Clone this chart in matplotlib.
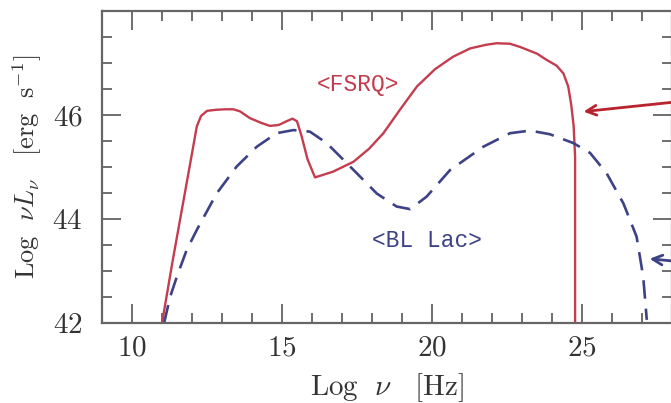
import matplotlib
matplotlib.use("Agg")
import matplotlib.pyplot as plt
from matplotlib.ticker import MultipleLocator

plt.rcParams['mathtext.fontset'] = 'cm'
plt.rcParams['font.family'] = 'cmr10'
plt.rcParams['axes.formatter.use_mathtext'] = True

# average SEDs (log nu, log nuL_nu)
fsrq_x = [11.0, 11.36, 11.6, 11.9, 12.16, 12.3, 12.5, 12.8, 13.1, 13.38, 13.6, 13.93, 14.3,
          14.6, 14.9, 15.15, 15.35, 15.5, 15.65, 15.85, 16.1, 16.7, 17.38, 17.9, 18.38, 18.93,
          19.5, 20.1, 20.7, 21.27, 21.8, 22.16, 22.6, 22.93, 23.5, 23.82, 24.15, 24.38, 24.54,
          24.64, 24.72, 24.77, 24.77]
fsrq_y = [42.0, 43.21, 43.98, 44.94, 45.78, 45.98, 46.08, 46.1, 46.11, 46.11, 46.07, 45.94,
          45.85, 45.79, 45.81, 45.88, 45.93, 45.88, 45.6, 45.15, 44.8, 44.91, 45.1, 45.35,
          45.65, 46.1, 46.55, 46.88, 47.12, 47.28, 47.35, 47.38, 47.37, 47.31, 47.18, 47.06,
          46.95, 46.8, 46.55, 46.2, 45.8, 45.2, 42.0]

bllac_x = [11.07, 11.27, 11.5, 11.82, 12.16, 12.82, 13.49, 14.16, 14.82, 15.38, 15.93, 16.49,
           17.27, 18.16, 18.82, 19.27, 19.82, 20.6, 21.71, 22.6, 23.27, 23.93, 24.71, 25.27,
           25.82, 26.38, 26.82, 27.04, 27.16]
bllac_y = [42.0, 42.5, 42.9, 43.4, 43.79, 44.49, 45.01, 45.39, 45.65, 45.71, 45.68, 45.46,
           45.01, 44.49, 44.24, 44.19, 44.43, 44.94, 45.39, 45.65, 45.70, 45.63, 45.46, 45.27,
           44.88, 44.30, 43.66, 42.89, 42.06]

xticks = [10, 15, 20, 25]
yticks = [42, 44, 46]

red = '#c43d4f'
navy = '#3d4286'

fig = plt.figure(figsize=(6.71, 4.03), dpi=100)
ax = fig.add_axes([102 / 671, 80 / 403, 570 / 671, 312 / 403])

ax.plot(fsrq_x, fsrq_y, color=red, lw=1.7, solid_joinstyle='round')
ax.plot(bllac_x, bllac_y, color=navy, lw=1.9, dashes=(7, 3.8))

ax.text(17.52, 46.59, '<FSRQ>', color=red, family='Liberation Mono',
        fontsize=16.5, ha='center', va='center')
ax.text(19.85, 43.58, '<BL Lac>', color=navy, family='Liberation Mono',
        fontsize=16.5, ha='center', va='center')

ax.annotate('', xy=(24.96, 46.06), xytext=(28.6, 46.28), annotation_clip=False,
            arrowprops=dict(arrowstyle='->,head_length=0.7,head_width=0.35',
                            color='#b8242e', lw=2))
ax.annotate('', xy=(27.16, 43.24), xytext=(28.6, 43.16), annotation_clip=False,
            arrowprops=dict(arrowstyle='->,head_length=0.7,head_width=0.35',
                            color=navy, lw=2))

ax.set_xlim(9, 28)
ax.set_ylim(42, 48)
ax.set_xticks(xticks)
ax.set_yticks(yticks)
ax.xaxis.set_minor_locator(MultipleLocator(1))
ax.yaxis.set_minor_locator(MultipleLocator(0.5))
ax.tick_params(which='both', direction='in', top=True, right=True,
               colors='#555555', labelcolor='#333333', width=1.2)
ax.tick_params(which='major', length=14, labelsize=21)
ax.tick_params(axis='x', which='major', pad=9)
ax.tick_params(axis='y', which='major', pad=14)
ax.tick_params(which='minor', length=7)
for s in ax.spines.values():
    s.set_color('#666666')
    s.set_linewidth(1.6)

ax.set_xlabel(r'$\mathrm{Log}\ \ \nu\ \ \ [\mathrm{Hz}]$', fontsize=21, color='#333333')
ax.set_ylabel(r'$\mathrm{Log}\ \ \nu L_\nu\ \ \ [\mathrm{erg\ \ s^{-1}}]$', fontsize=19,
              color='#333333')
ax.xaxis.set_label_coords(0.5, -0.155)
ax.yaxis.set_label_coords(-0.102, 0.5)

fig.savefig('out.png', dpi=100)
